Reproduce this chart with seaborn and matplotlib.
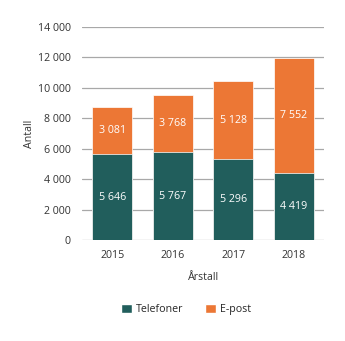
import matplotlib
matplotlib.use("Agg")
import matplotlib.pyplot as plt
import seaborn as sns
import pandas as pd
from matplotlib.patches import Patch

years = ["2015", "2016", "2017", "2018"]
telefoner = [5646, 5767, 5296, 4419]
epost = [3081, 3768, 5128, 7552]
yticks = [0, 2000, 4000, 6000, 8000, 10000, 12000, 14000]

teal = "#215e5c"
orange = "#ec7735"

sns.set_theme(style="white")
plt.rcParams["font.family"] = ["Open Sans", "DejaVu Sans"]

def fmt(v):
    return f"{v:,}".replace(",", " ")

df = pd.DataFrame({"year": years, "tel": telefoner, "ep": epost})
df["total"] = df["tel"] + df["ep"]

fig = plt.figure(figsize=(3.45, 3.41), dpi=100)
ax = fig.add_axes([0.238, 0.296, 0.701, 0.625])

sns.barplot(data=df, x="year", y="total", color=orange, width=0.66,
            edgecolor="white", linewidth=0.5, saturation=1, ax=ax, zorder=3)
sns.barplot(data=df, x="year", y="tel", color=teal, width=0.66,
            edgecolor="white", linewidth=0.5, saturation=1, ax=ax, zorder=4)

for i, (t, e) in enumerate(zip(telefoner, epost)):
    ax.text(i, t / 2, fmt(t), ha="center", va="center", color="white", fontsize=7.7, zorder=5)
    ax.text(i, t + e / 2, fmt(e), ha="center", va="center", color="white", fontsize=7.7, zorder=5)

ax.set_ylim(0, 14000)
ax.set_xlim(-0.5, 3.5)
ax.set_yticks(yticks)
ax.set_yticklabels([fmt(v) for v in yticks], fontsize=7.7, color="#333333")
ax.tick_params(axis="x", labelsize=7.7, colors="#333333", length=0, pad=7)
ax.tick_params(axis="y", length=0, pad=8)
ax.yaxis.grid(True, color="#a8a8a8", linewidth=0.9, zorder=0)
ax.set_axisbelow(True)
for s in ax.spines.values():
    s.set_visible(False)
ax.set_xlabel("Årstall", fontsize=7.7, color="#333333", labelpad=8)
ax.set_ylabel("Antall", fontsize=7.7, color="#333333", labelpad=2)

handles = [Patch(facecolor=teal, label="Telefoner"), Patch(facecolor=orange, label="E-post")]
fig.legend(handles=handles, loc="center", bbox_to_anchor=(0.54, 0.092), ncol=2,
           frameon=False, fontsize=7.7, handlelength=1.0, handleheight=1.0,
           handletextpad=0.4, columnspacing=2.0)

fig.savefig("out.png", dpi=100)
